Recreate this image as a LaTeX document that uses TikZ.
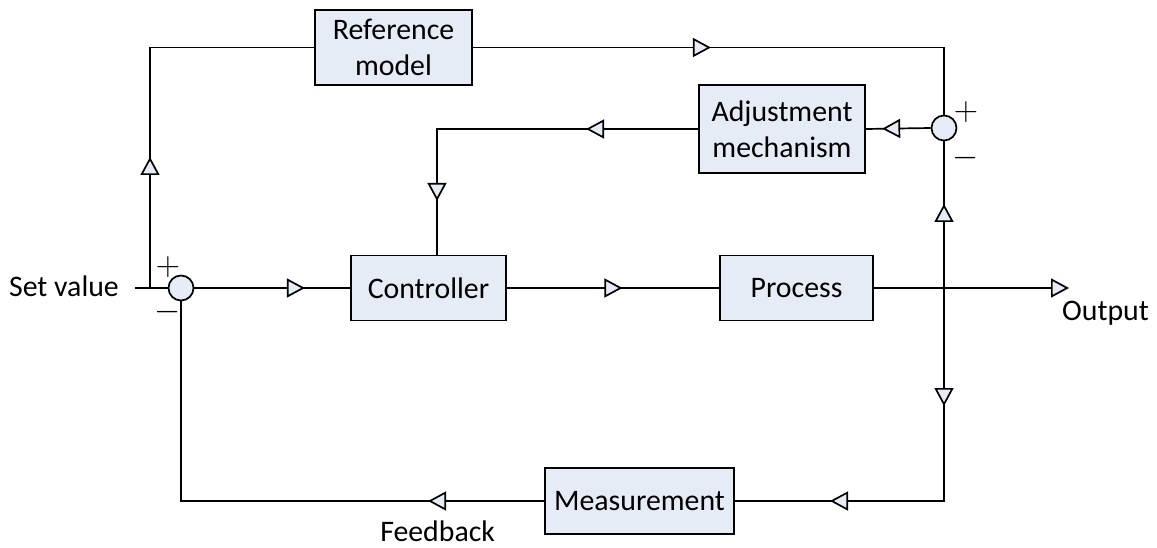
\RequirePackage{fix-cm}
\documentclass[tikz,border=0pt]{standalone}
\usepackage[no-math]{fontspec}
\setmainfont{Carlito}
\usetikzlibrary{arrows.meta,decorations.markings}
\definecolor{boxblue}{RGB}{230,236,246}
\tikzset{
  blk/.style={draw, line width=1.8pt, fill=boxblue, inner sep=2pt, align=center,
    font=\fontsize{29.8}{36}\selectfont},
  sumnode/.style={draw, line width=1.7pt, fill=boxblue, circle, minimum size=25pt, inner sep=0pt},
  wire/.style={line width=1.7pt},
  lbl/.style={font=\fontsize{29.8}{36}\selectfont, inner sep=0pt},
  sgn/.style={font=\fontsize{21}{21}\selectfont, inner sep=0pt, scale=1.6},
  >={Triangle[length=18pt,width=19pt,fill=boxblue]},
  tipat/.style={postaction={decorate}, decoration={markings, mark=at position #1 with {\arrow{>}}}},
  twotips/.style 2 args={postaction={decorate}, decoration={markings,
     mark=at position #1 with {\arrow{>}}, mark=at position #2 with {\arrow{>}}}}
}
\begin{document}
\begin{tikzpicture}[x=1pt,y=-1pt]
\useasboundingbox (0,0) rectangle (1157,548);
% blocks
\node[blk, minimum width=157pt, minimum height=75pt] (refm) at (393.5,47.5) {Reference\\model};
\node[blk, minimum width=166pt, minimum height=88pt] (adj) at (782,129) {Adjustment\\mechanism};
\node[blk, minimum width=155pt, minimum height=65pt] (ctrl) at (428.5,288) {Controller};
\node[blk, minimum width=153pt, minimum height=65pt] (proc) at (796.5,288) {Process};
\node[blk, minimum width=189pt, minimum height=66pt] (meas) at (639.5,501) {Measurement};
\node[sumnode] (s1) at (181,288) {};
\node[sumnode] (s2) at (944,128) {};
% coordinates
\coordinate (in) at (135,288);
\coordinate (j1) at (150,288);
\coordinate (out) at (1069,288);
\coordinate (j2) at (944,288);
% labels
\node[lbl, anchor=east] (setv) at (119,286) {Set value};
\node[lbl, anchor=west] (outl) at (1062,313) {Output};
\node[lbl] (fb) at (437.6,531) {Feedback};
\node[sgn] (p1) at (168,267) {$+$};
\node[sgn] (m1) at (168,312) {$-$};
\node[sgn] (p2) at (966,112) {$+$};
\node[sgn] (m2) at (966,158) {$-$};
% connectors
\draw[wire] (in) -- (s1.west);
\draw[wire, tipat=131pt] (j1) |- (refm.west);
\draw[wire, tipat=238pt] (refm.east) -| (s2.north);
\draw[wire, tipat=48.5pt] (s2.west) -- (adj.east);
\draw[wire, twotips={112pt}{333pt}] (adj.west) -| ([xshift=8.5pt]ctrl.north);
\draw[wire, tipat=110.5pt] (s1.east) -- (ctrl.west);
\draw[wire, tipat=115.5pt] (ctrl.east) -- (proc.west);
\draw[wire, ->] (proc.east) -- (out);
\draw[wire, tipat=84pt] (j2) -- (s2.south);
\draw[wire, twotips={118pt}{327pt}] (j2) |- (meas.east);
\draw[wire, tipat=116pt] (meas.west) -| (s1.south);
\end{tikzpicture}
\end{document}
